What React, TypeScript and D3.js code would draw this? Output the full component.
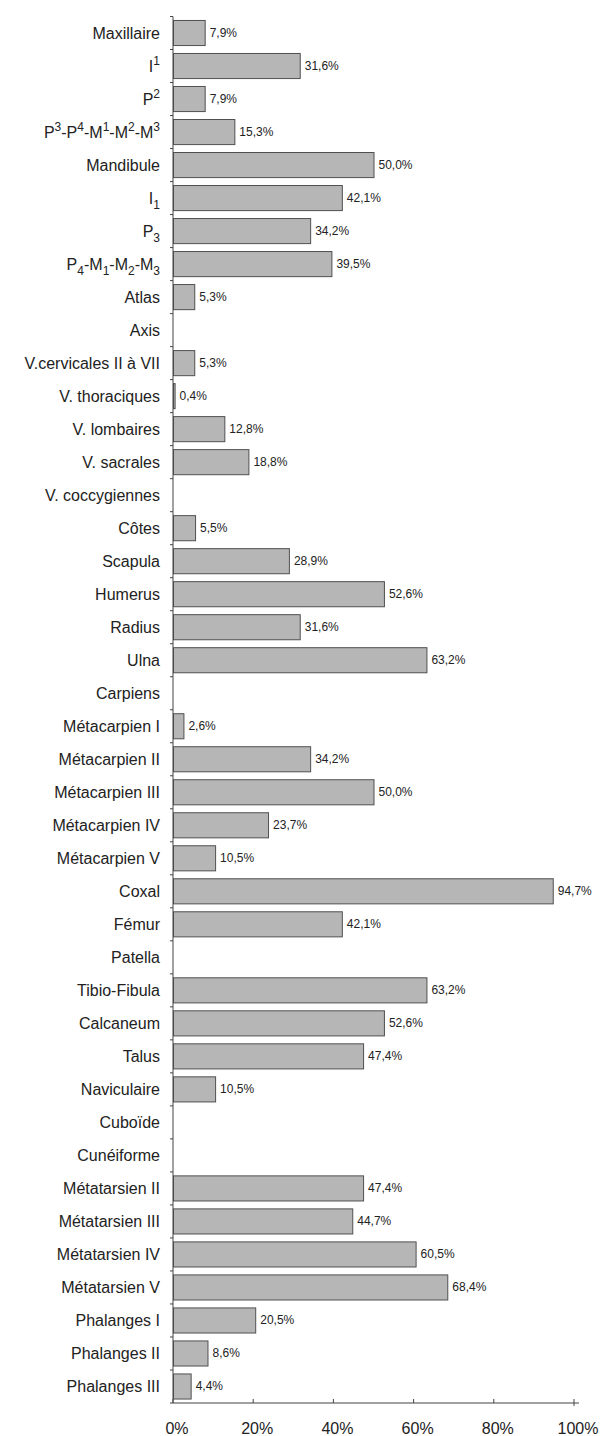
import React, { useEffect } from "react";
import * as d3 from "d3";

// ^n = superscript, _n = subscript
const categories: string[] = [
  "Maxillaire", "I^1", "P^2", "P^3-P^4-M^1-M^2-M^3", "Mandibule", "I_1", "P_3",
  "P_4-M_1-M_2-M_3", "Atlas", "Axis", "V.cervicales II à VII", "V. thoraciques",
  "V. lombaires", "V. sacrales", "V. coccygiennes", "Côtes", "Scapula", "Humerus",
  "Radius", "Ulna", "Carpiens", "Métacarpien I", "Métacarpien II", "Métacarpien III",
  "Métacarpien IV", "Métacarpien V", "Coxal", "Fémur", "Patella", "Tibio-Fibula",
  "Calcaneum", "Talus", "Naviculaire", "Cuboïde", "Cunéiforme", "Métatarsien II",
  "Métatarsien III", "Métatarsien IV", "Métatarsien V", "Phalanges I",
  "Phalanges II", "Phalanges III",
];

const values: (number | null)[] = [
  7.9, 31.6, 7.9, 15.3, 50.0, 42.1, 34.2, 39.5, 5.3, null, 5.3, 0.4,
  12.8, 18.8, null, 5.5, 28.9, 52.6, 31.6, 63.2, null, 2.6, 34.2, 50.0,
  23.7, 10.5, 94.7, 42.1, null, 63.2, 52.6, 47.4, 10.5, null, null, 47.4,
  44.7, 60.5, 68.4, 20.5, 8.6, 4.4,
];

const xTicks: number[] = [0, 20, 40, 60, 80, 100];

const FONT = "'Liberation Sans', Arial, sans-serif";

type Part = { t: string; k: "n" | "sup" | "sub" };

function parseLabel(s: string): Part[] {
  const parts: Part[] = [];
  let i = 0;
  while (i < s.length) {
    const c = s[i];
    if ((c === "^" || c === "_") && i + 1 < s.length) {
      parts.push({ t: s[i + 1], k: c === "^" ? "sup" : "sub" });
      i += 2;
    } else {
      let j = i;
      while (j < s.length && s[j] !== "^" && s[j] !== "_") j++;
      parts.push({ t: s.slice(i, j), k: "n" });
      i = j;
    }
  }
  return parts;
}

function renderParts(parts: Part[]) {
  let cur = 0;
  return parts.map((p, k) => {
    const target = p.k === "sup" ? -7 : p.k === "sub" ? 5 : 0;
    const dy = target - cur;
    cur = target;
    return (
      <tspan key={k} dy={dy} fontSize={p.k === "n" ? 16 : 12}>
        {p.t}
      </tspan>
    );
  });
}

export default function App() {
  useEffect(() => {
    document.body.style.margin = "0";
  }, []);

  const width = 600;
  const height = 1436;
  const x0 = 173;
  const x = d3.scaleLinear().domain([0, 100]).range([x0, 574]);
  const y = d3
    .scaleBand<string>()
    .domain(categories.map((_, i) => String(i)))
    .range([16.5, 1403])
    .paddingInner(0.24)
    .paddingOuter(0.12);
  const step = y.step();
  const axisY = 1403;
  const fmt = (v: number) => d3.format(".1f")(v).replace(".", ",") + "%";

  return (
    <svg
      width={width}
      height={height}
      style={{ position: "absolute", left: 0, top: 0, background: "#fff" }}
      fontFamily={FONT}
    >
      <rect x={0} y={0} width={width} height={height} fill="#fff" />
      {categories.map((c, i) => {
        const v = values[i];
        const by = y(String(i))!;
        const cy = by + y.bandwidth() / 2 + 5.5;
        return (
          <g key={i}>
            <text x={160} y={cy} textAnchor="end" fontSize={16} fill="#222">
              {renderParts(parseLabel(c))}
            </text>
            {v !== null && (
              <>
                <rect
                  x={x(0) + 0.5}
                  y={by}
                  width={Math.max(x(v) - x(0), 0.5)}
                  height={y.bandwidth()}
                  fill="#b6b6b6"
                  stroke="#505050"
                  strokeWidth={1}
                />
                <text x={x(v) + 5} y={by + y.bandwidth() / 2 + 4} fontSize={12} fill="#222">
                  {fmt(v)}
                </text>
              </>
            )}
          </g>
        );
      })}
      {/* y axis */}
      <line x1={x0} x2={x0} y1={16.5} y2={axisY} stroke="#444" strokeWidth={1} />
      {d3.range(categories.length + 1).map((i) => {
        const ty = 16.5 + i * step;
        return (
          <line key={i} x1={x0 - 3} x2={x0} y1={ty} y2={ty} stroke="#444" strokeWidth={1} />
        );
      })}
      {/* x axis */}
      <line x1={x0} x2={579} y1={axisY} y2={axisY} stroke="#444" strokeWidth={1} />
      {xTicks.map((t) => (
        <g key={t}>
          <line x1={x(t)} x2={x(t)} y1={axisY - 4} y2={t === 100 ? axisY + 3 : axisY} stroke="#444" strokeWidth={1} />
          <text x={x(t) + 4} y={1434} textAnchor="middle" fontSize={16} fill="#222">
            {t + "%"}
          </text>
        </g>
      ))}
    </svg>
  );
}
